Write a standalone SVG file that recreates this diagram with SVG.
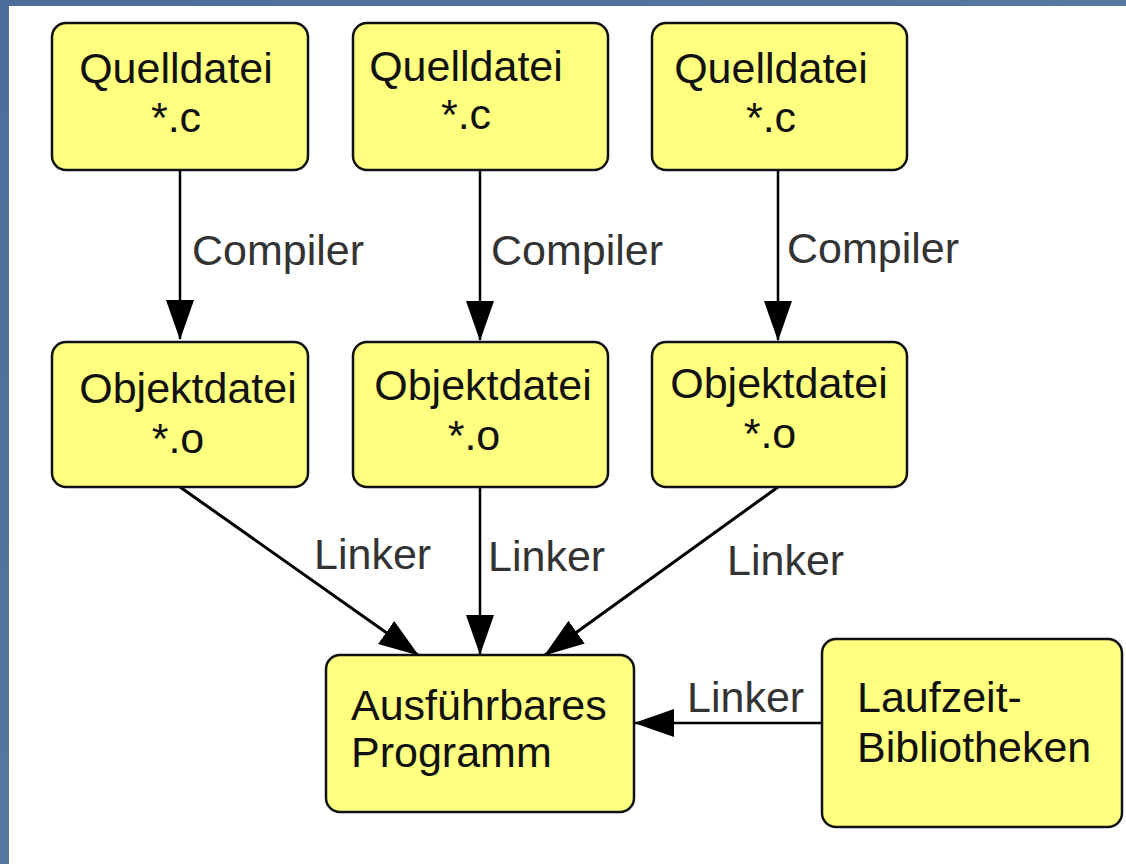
<svg xmlns="http://www.w3.org/2000/svg" width="1126" height="864" viewBox="0 0 1126 864">
  <defs>
    <linearGradient id="bluebg" x1="0" y1="0" x2="1" y2="1">
      <stop offset="0" stop-color="#4a6d9a"/>
      <stop offset="0.5" stop-color="#55789f"/>
      <stop offset="1" stop-color="#4a6d9a"/>
    </linearGradient>
    <marker id="arr" viewBox="0 0 40 28" refX="39" refY="14" markerWidth="40" markerHeight="28" markerUnits="userSpaceOnUse" orient="auto">
      <path d="M0,0 L40,14 L0,28 z" fill="#000"/>
    </marker>
    <style>
      .box { fill: #ffff80; stroke: #111; stroke-width: 2.5; }
      .bt { font-family: "Liberation Sans", Arial, sans-serif; font-size: 43px; fill: #111; }
      .lbl { font-family: "Liberation Sans", Arial, sans-serif; font-size: 43px; fill: #333; }
      .c { text-anchor: middle; }
      .ln { stroke: #000; stroke-width: 2.5; fill: none; marker-end: url(#arr); }
      .dg { stroke-width: 3; }
    </style>
  </defs>

  <rect x="0" y="0" width="1126" height="864" fill="url(#bluebg)"/>
  <rect x="9" y="6" width="1117" height="858" fill="#ffffff"/>

  <g id="connectors">
    <line class="ln" x1="180" y1="170" x2="180" y2="339"/>
    <line class="ln" x1="480" y1="170" x2="480" y2="340"/>
    <line class="ln" x1="778" y1="170" x2="778" y2="340"/>
    <line class="ln dg" x1="180" y1="487" x2="418" y2="655"/>
    <line class="ln" x1="480" y1="487" x2="480" y2="654"/>
    <line class="ln dg" x1="778" y1="487" x2="545" y2="655"/>
    <line class="ln" x1="822" y1="723" x2="635" y2="723"/>
    <text class="lbl" x="192" y="265">Compiler</text>
    <text class="lbl" x="491" y="265">Compiler</text>
    <text class="lbl" x="787" y="263">Compiler</text>
    <text class="lbl" x="314" y="569">Linker</text>
    <text class="lbl" x="488" y="571">Linker</text>
    <text class="lbl" x="727" y="575">Linker</text>
    <text class="lbl" x="687" y="712">Linker</text>
  </g>

  <g id="quelle1">
    <rect class="box" x="52" y="23" width="256" height="147" rx="14"/>
    <text class="bt c" x="176" y="83">Quelldatei</text>
    <text class="bt c" x="176" y="132">*.c</text>
  </g>
  <g id="quelle2">
    <rect class="box" x="353" y="23" width="255" height="147" rx="14"/>
    <text class="bt c" x="466" y="81">Quelldatei</text>
    <text class="bt c" x="466" y="129">*.c</text>
  </g>
  <g id="quelle3">
    <rect class="box" x="652" y="23" width="255" height="147" rx="14"/>
    <text class="bt c" x="771" y="83">Quelldatei</text>
    <text class="bt c" x="771" y="132">*.c</text>
  </g>

  <g id="objekt1">
    <rect class="box" x="52" y="342" width="256" height="145" rx="14"/>
    <text class="bt c" x="188" y="403">Objektdatei</text>
    <text class="bt c" x="178" y="453">*.o</text>
  </g>
  <g id="objekt2">
    <rect class="box" x="353" y="342" width="255" height="145" rx="14"/>
    <text class="bt c" x="483" y="400">Objektdatei</text>
    <text class="bt c" x="474" y="450">*.o</text>
  </g>
  <g id="objekt3">
    <rect class="box" x="652" y="342" width="255" height="145" rx="14"/>
    <text class="bt c" x="779" y="398">Objektdatei</text>
    <text class="bt c" x="770" y="448">*.o</text>
  </g>

  <g id="programm">
    <rect class="box" x="326" y="655" width="308" height="157" rx="14"/>
    <text class="bt" x="351" y="720">Ausführbares</text>
    <text class="bt" x="351" y="767">Programm</text>
  </g>

  <g id="bibliotheken">
    <rect class="box" x="822" y="639" width="300" height="188" rx="14"/>
    <text class="bt" x="857" y="712">Laufzeit-</text>
    <text class="bt" x="857" y="762">Bibliotheken</text>
  </g>
</svg>
